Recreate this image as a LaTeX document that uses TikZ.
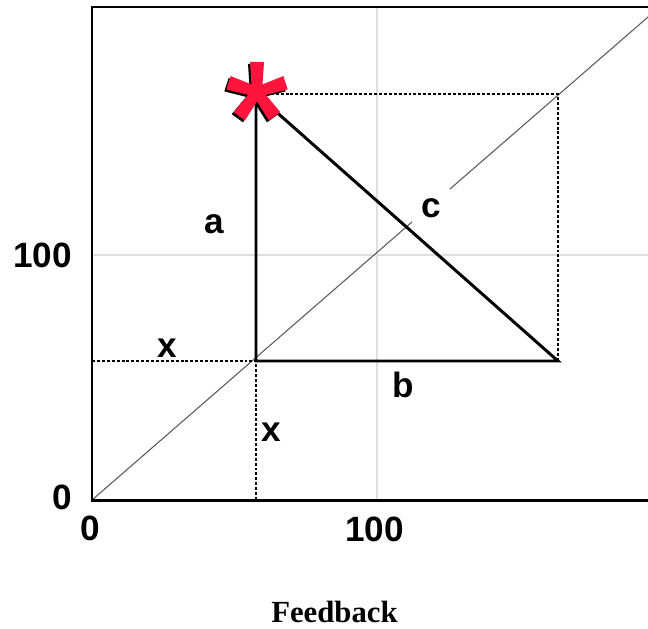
\documentclass[tikz,border=0pt]{standalone}
\usepackage{fontspec}
\setmainfont{Liberation Serif}
\newfontfamily\labfont{Liberation Sans}
\usetikzlibrary{positioning}

\definecolor{starred}{RGB}{255,20,60}

\begin{document}
\begin{tikzpicture}[
    x=0.02cm, y=-0.02cm,
    axis/.style={line width=1.7pt, line join=miter},
    gridline/.style={line width=1.1pt, gray!25},
    diag/.style={line width=0.6pt, gray!70!black},
    guide/.style={line width=0.6pt, dash pattern=on 1.7pt off 1.1pt},
    side/.style={line width=1.7pt, line join=miter},
    lbl/.style={font=\labfont\bfseries\fontsize{20}{24}\selectfont, anchor=base, inner sep=0pt}
]
\useasboundingbox (0,0) rectangle (648,628);

\coordinate (origin) at (92,500);
\coordinate (ytop) at (92,7);
\coordinate (rtop) at (648,7);
\coordinate (xend) at (648,500);
\coordinate (vgtop) at (377,7);
\coordinate (vgbot) at (377,500);
\coordinate (hgleft) at (92,255);
\coordinate (hgright) at (648,255);
\coordinate (diagend) at (648,17);
\coordinate (apex) at (256,94);
\coordinate (foot) at (256,361);
\coordinate (bcorner) at (558,361);
\coordinate (tcorner) at (558,94);
\coordinate (xfoot) at (256,500);
\coordinate (yfoot) at (92,361);
\coordinate (star) at (257,92);

\draw[gridline] (vgtop) -- (vgbot);
\draw[gridline] (hgleft) -- (hgright);
\draw[diag] (origin) -- (diagend);

\draw[guide] (yfoot) -- (foot);
\draw[guide] (xfoot) -- (foot);
\draw[guide] (apex) -- (tcorner) -- (bcorner);

\draw[side] (apex) -- (foot) -- (bcorner) -- cycle;
\draw[axis] (rtop) -- (ytop) -- (origin) -- (xend);

\node[lbl] (ylab100) at (42.5,267) {100};
\node[lbl] (ylab0) at (62,509) {0};
\node[lbl] (xlab0) at (90.5,540) {0};
\node[lbl] (xlab100) at (374.5,541) {100};

\node[lbl] (la) at (214,233) {a};
\node[lbl] (lb) at (403,397) {b};
\node[lbl, fill=white, inner xsep=5pt, inner ysep=5pt] (lc) at (431,217) {c};
\node[lbl] (lx1) at (167,357) {x};
\node[lbl] (lx2) at (271.5,441) {x};

\node[font=\bfseries\fontsize{17.5}{21}\selectfont, anchor=base] (feedback) at (334.5,622) {Feedback};

\foreach \ang in {90,18,-54,-126,162}
  \fill[black, shift={(255,94)}, rotate=\ang] (0,-5) -- (30,-7) -- (30,7) -- (0,5) -- cycle;
\foreach \ang in {90,18,-54,-126,162}
  \fill[starred, shift={(star)}, rotate=\ang] (0,-5) -- (30,-7) -- (30,7) -- (0,5) -- cycle;

\end{tikzpicture}
\end{document}
